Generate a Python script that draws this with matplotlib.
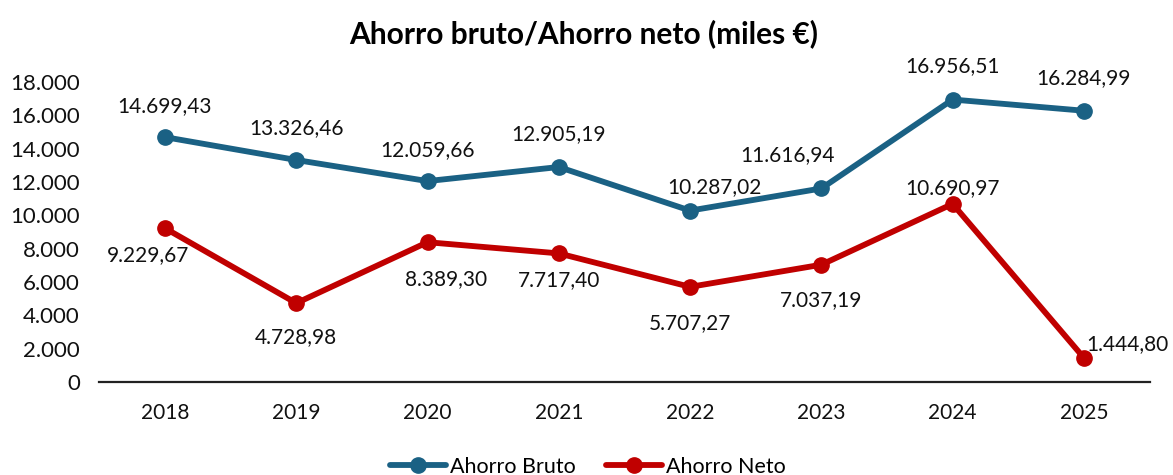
import matplotlib.pyplot as plt
from matplotlib.ticker import FuncFormatter

plt.rcParams['font.family'] = ['Lato', 'DejaVu Sans']

years = ['2018', '2019', '2020', '2021', '2022', '2023', '2024', '2025']
ahorro_bruto = [14699.43, 13326.46, 12059.66, 12905.19, 10287.02, 11616.94, 16956.51, 16284.99]
ahorro_neto = [9229.67, 4728.98, 8389.30, 7717.40, 5707.27, 7037.19, 10690.97, 1444.80]

# label offsets in pixels (dx, dy)
off_bruto = [(0, 31), (0, 32), (0, 31), (0, 33), (24, 24), (-34, 33), (0, 33), (0, 33)]
off_neto = [(-17, -27), (0, -34), (19, -37), (0, -27), (0, -36), (0, -35), (0, 16), (43, 14)]

BLUE = '#1a6184'
RED = '#c00000'


def fmt_es(v, dec=2):
    s = f"{v:,.{dec}f}"
    return s.replace(',', 'X').replace('.', ',').replace('X', '.')


fig = plt.figure(figsize=(11.73, 4.75), dpi=100)
ax = fig.add_axes([0.0847, 0.196, 0.8953, 0.631])

x = list(range(len(years)))
ax.plot(x, ahorro_bruto, color=BLUE, lw=4.2, marker='o', ms=11, label='Ahorro Bruto',
        solid_capstyle='round')
ax.plot(x, ahorro_neto, color=RED, lw=4.2, marker='o', ms=11, label='Ahorro Neto',
        solid_capstyle='round')

for xi, v, (dx, dy) in zip(x, ahorro_bruto, off_bruto):
    ax.annotate(fmt_es(v), (xi, v), xytext=(dx, dy), textcoords='offset pixels',
                ha='center', va='center', fontsize=15, color='#111111')
for xi, v, (dx, dy) in zip(x, ahorro_neto, off_neto):
    ax.annotate(fmt_es(v), (xi, v), xytext=(dx, dy), textcoords='offset pixels',
                ha='center', va='center', fontsize=15, color='#111111')

ax.set_xlim(-0.5, len(years) - 0.5)
ax.set_ylim(0, 18000)
ax.set_yticks(range(0, 18001, 2000))
ax.yaxis.set_major_formatter(FuncFormatter(lambda v, p: fmt_es(v, 0)))
ax.set_xticks(x)
ax.set_xticklabels(years)
ax.tick_params(axis='both', length=0, labelsize=15, colors='#111111')
ax.tick_params(axis='y', pad=14, labelsize=16)
ax.tick_params(axis='x', pad=15.5)

for s in ['top', 'right', 'left']:
    ax.spines[s].set_visible(False)
ax.spines['bottom'].set_linewidth(1.6)
ax.spines['bottom'].set_color('#222222')

fig.suptitle('Ahorro bruto/Ahorro neto (miles €)', fontsize=21.5, fontweight='bold',
             x=0.498, y=0.93, va='center')

fig.legend(loc='center', bbox_to_anchor=(0.501, 1 - 467 / 475), ncol=2, frameon=False,
           fontsize=15.5, handlelength=2.6, columnspacing=1.4, handletextpad=0.2)

fig.savefig('out.png', dpi=100)
